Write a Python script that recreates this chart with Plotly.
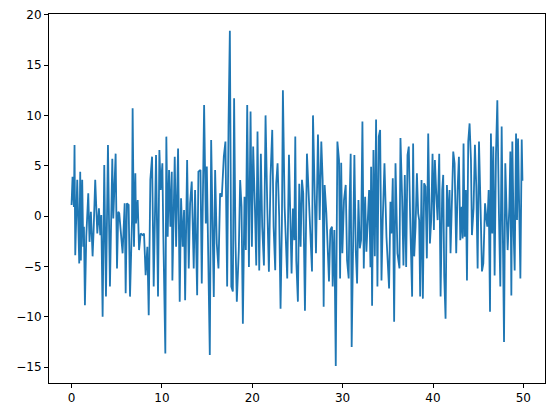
import plotly.graph_objects as go

# values (x position, value)
x_vals = [
    0.0, 0.11, 0.26, 0.33, 0.41, 0.63, 0.85, 0.96, 1.03, 1.18, 1.29, 1.37, 1.48, 1.63, 1.85, 1.99,
    2.14, 2.33, 2.44, 2.62, 2.85, 3.03, 3.18, 3.29, 3.44, 3.62, 3.81, 4.03, 4.25, 4.51, 4.62, 4.88,
    5.03, 5.17, 5.28, 5.51, 5.65, 5.88, 5.99, 6.13, 6.32, 6.47, 6.69, 6.76, 6.91, 7.06, 7.13, 7.32,
    7.47, 7.65, 7.87, 8.02, 8.2, 8.39, 8.54, 8.72, 8.91, 9.09, 9.35, 9.57, 9.72, 9.87, 10.05, 10.16,
    10.38, 10.49, 10.64, 10.79, 10.94, 11.09, 11.16, 11.42, 11.57, 11.79, 11.97, 12.12, 12.3, 12.45,
    12.57, 12.79, 12.97, 13.12, 13.3, 13.52, 13.67, 13.9, 14.04, 14.27, 14.41, 14.67, 14.86, 14.97,
    15.16, 15.3, 15.45, 15.6, 15.74, 15.89, 16.07, 16.26, 16.44, 16.63, 16.85, 17.03, 17.22, 17.37,
    17.52, 17.68, 17.85, 17.99, 18.14, 18.29, 18.51, 18.66, 18.81, 18.96, 19.14, 19.29, 19.44, 19.63,
    19.81, 19.96, 20.1, 20.29, 20.44, 20.58, 20.77, 20.95, 21.1, 21.29, 21.47, 21.66, 21.84, 22.02,
    22.21, 22.36, 22.54, 22.65, 22.8, 22.98, 23.13, 23.28, 23.39, 23.58, 23.72, 23.87, 24.06, 24.21,
    24.35, 24.5, 24.65, 24.76, 24.87, 25.05, 25.2, 25.35, 25.5, 25.64, 25.83, 26.05, 26.24, 26.39,
    26.61, 26.72, 26.9, 27.05, 27.27, 27.46, 27.64, 27.79, 27.9, 28.01, 28.2, 28.49, 28.64, 28.82,
    28.9, 29.08, 29.24, 29.42, 29.6, 29.72, 29.84, 29.97, 30.15, 30.34, 30.49, 30.67, 30.75, 30.89,
    31.0, 31.15, 31.3, 31.45, 31.6, 31.75, 31.9, 32.04, 32.19, 32.34, 32.49, 32.63, 32.78, 32.93,
    33.08, 33.15, 33.26, 33.41, 33.56, 33.7, 33.85, 34.0, 34.15, 34.3, 34.44, 34.63, 34.85, 35.0,
    35.14, 35.29, 35.4, 35.55, 35.7, 35.85, 36.07, 36.29, 36.4, 36.58, 36.73, 36.88, 37.03, 37.18,
    37.32, 37.47, 37.69, 37.8, 37.92, 38.07, 38.22, 38.36, 38.47, 38.58, 38.73, 38.88, 39.02, 39.17,
    39.32, 39.47, 39.66, 39.8, 39.95, 40.1, 40.21, 40.36, 40.51, 40.69, 40.84, 41.02, 41.13, 41.24,
    41.39, 41.54, 41.69, 41.83, 41.94, 42.06, 42.24, 42.39, 42.57, 42.72, 42.87, 43.02, 43.17, 43.28,
    43.38, 43.5, 43.64, 43.76, 43.9, 44.05, 44.2, 44.31, 44.49, 44.64, 44.79, 44.94, 45.09, 45.27,
    45.42, 45.57, 45.76, 45.9, 46.01, 46.16, 46.31, 46.41, 46.56, 46.67, 46.82, 46.97, 47.12, 47.3,
    47.45, 47.6, 47.75, 47.86, 48.0, 48.15, 48.26, 48.45, 48.56, 48.67, 48.78, 48.93, 49.04, 49.19,
    49.3, 49.41, 49.56, 49.67, 49.82, 49.9,
]
y_vals = [
    1.1, 3.9, 0.9, 7.06, -3.9, 3.6, -4.7, 4.4, -4.4, 3.6, -3.05, -1.06, -8.86, -2.06, 2.26, -2.56,
    0.43, -4.0, -1.56, 3.6, -1.73, 0.76, -1.89, 0.1, -10.0, 5.07, -8.0, 7.06, -7.0, 5.7, -0.23, 6.2,
    -5.2, 0.43, 0.27, -2.06, -3.7, 1.26, -7.66, 1.26, 1.1, -8.0, -0.4, 10.7, -3.05, 4.25, -0.73, 1.59,
    -3.38, -1.73, -1.89, -1.73, -5.87, -3.05, -9.85, 3.6, 5.9, -7.0, 6.07, -8.0, 6.57, 2.59, 5.24, -2.06,
    -13.66, 7.89, -2.06, 4.58, -1.06, 4.4, -6.4, 5.9, -3.05, 6.7, -8.5, 1.76, -3.05, 0.6,
    -8.36, 5.57, -5.2, 1.26, 3.42, -5.2, 2.59, -7.86, 4.4, 4.58, -6.7, 11.04, -0.73, 4.91,
    -5.54, -13.8, 7.56, 1.26, -8.03, 4.58, -2.72, -5.2, 2.26, 1.92, 5.9, 7.4, -7.0, 8.9,
    18.4, -7.0, -7.5, 11.7, -2.39, -8.5, -3.38, 3.58, 0.93, -10.7, 1.92, -3.38, 11.04, -5.07,
    10.38, -3.05, 6.9, 0.93, -4.9, 8.4, -5.4, 6.2, -1.06, -4.9, 10.0, 0.93, -5.54, 3.92,
    8.56, -1.06, -5.37, 3.25, 5.24, -0.07, -9.2, -0.73, 12.5, 0.93, -3.7, -6.2, 6.1, -0.4,
    -5.7, 0.76, -2.39, 7.9, -4.4, -8.5, 3.2, -3.05, 3.6, 2.26, -9.4, 6.2, 1.59, -1.73,
    -5.5, 10.0, 3.25, -3.7, 8.1, -0.4, 7.4, 3.58, -9.0, 3.09, 0.27, -6.5, -1.39, -1.06,
    -7.0, -1.39, -14.9, 7.4, 5.57, -6.2, 5.3, -3.7, 1.59, 3.09, -4.4, -6.2, 0.43, 6.2,
    -13.0, -1.06, 6.07, -3.38, -6.7, 1.59, -3.2, -2.39, 9.4, -5.2, 1.92, -3.55, -0.4, 2.59,
    -5.07, 4.9, -8.9, 6.57, -4.0, 9.6, -7.0, 7.9, 8.56, -6.4, -0.4, 5.24, -2.06, -4.4,
    -7.2, 1.42, -1.73, 3.75, -10.5, 5.24, -3.7, -5.2, 7.76, 1.92, -4.9, 4.09, -5.07, 6.07,
    6.9, -0.07, -8.0, 7.2, -4.0, -1.06, 4.25, 0.27, -0.4, -8.0, 3.58, -8.2, 3.25, 2.92,
    -4.2, 8.2, -2.72, -0.4, 6.2, -1.39, 5.57, 2.26, -0.4, 6.2, -8.0, 2.59, 4.09, -5.87,
    -10.2, 3.09, -1.06, 2.59, -3.7, 0.27, 6.4, 5.24, -3.7, 2.59, 5.9, -2.39, 0.93, -2.22,
    7.2, -2.06, 2.59, -6.4, 7.4, 9.2, 5.57, -1.89, 0.76, 7.07, 2.92, -5.2, 7.4, 0.6,
    -5.5, -4.7, 1.26, -0.23, -1.06, 2.59, -9.5, 8.2, -1.73, 6.9, -5.9, 6.2, 11.5, 0.1,
    -7.0, 8.9, -2.39, -12.5, 5.24, 0.27, -3.38, 0.93, 6.4, -7.9, 7.4, -1.89, -5.4, 8.2,
    -0.4, 7.7, -0.57, -6.2, 7.6, 3.5,
]
x_ticks = [0, 10, 20, 30, 40, 50]
y_ticks = [-15, -10, -5, 0, 5, 10, 15, 20]

fig = go.Figure()
fig.add_trace(go.Scatter(x=x_vals, y=y_vals, mode="lines",
                         line=dict(color="#1f77b4", width=1.8), showlegend=False,
                         hoverinfo="skip"))

axis_common = dict(showline=True, linecolor="black", linewidth=1, mirror=True,
                   showgrid=False, zeroline=False, ticks="outside", ticklen=4,
                   tickwidth=1, tickcolor="black",
                   tickfont=dict(family="DejaVu Sans", size=12, color="black"))

fig.update_xaxes(range=[-2.495, 52.395], tickvals=x_ticks, **axis_common)
fig.update_yaxes(range=[-16.58, 20.07], tickvals=y_ticks, **axis_common)

fig.update_layout(width=554, height=417, margin=dict(l=49, r=9, t=14, b=34, autoexpand=False),
                  plot_bgcolor="white", paper_bgcolor="white")

# remove the default 8px page margin so the figure sits at the window's corner
fig.write_html("out.html",
               config={"displayModeBar": False, "staticPlot": True},
               post_script="document.body.style.margin='0';document.body.style.overflow='hidden';")
